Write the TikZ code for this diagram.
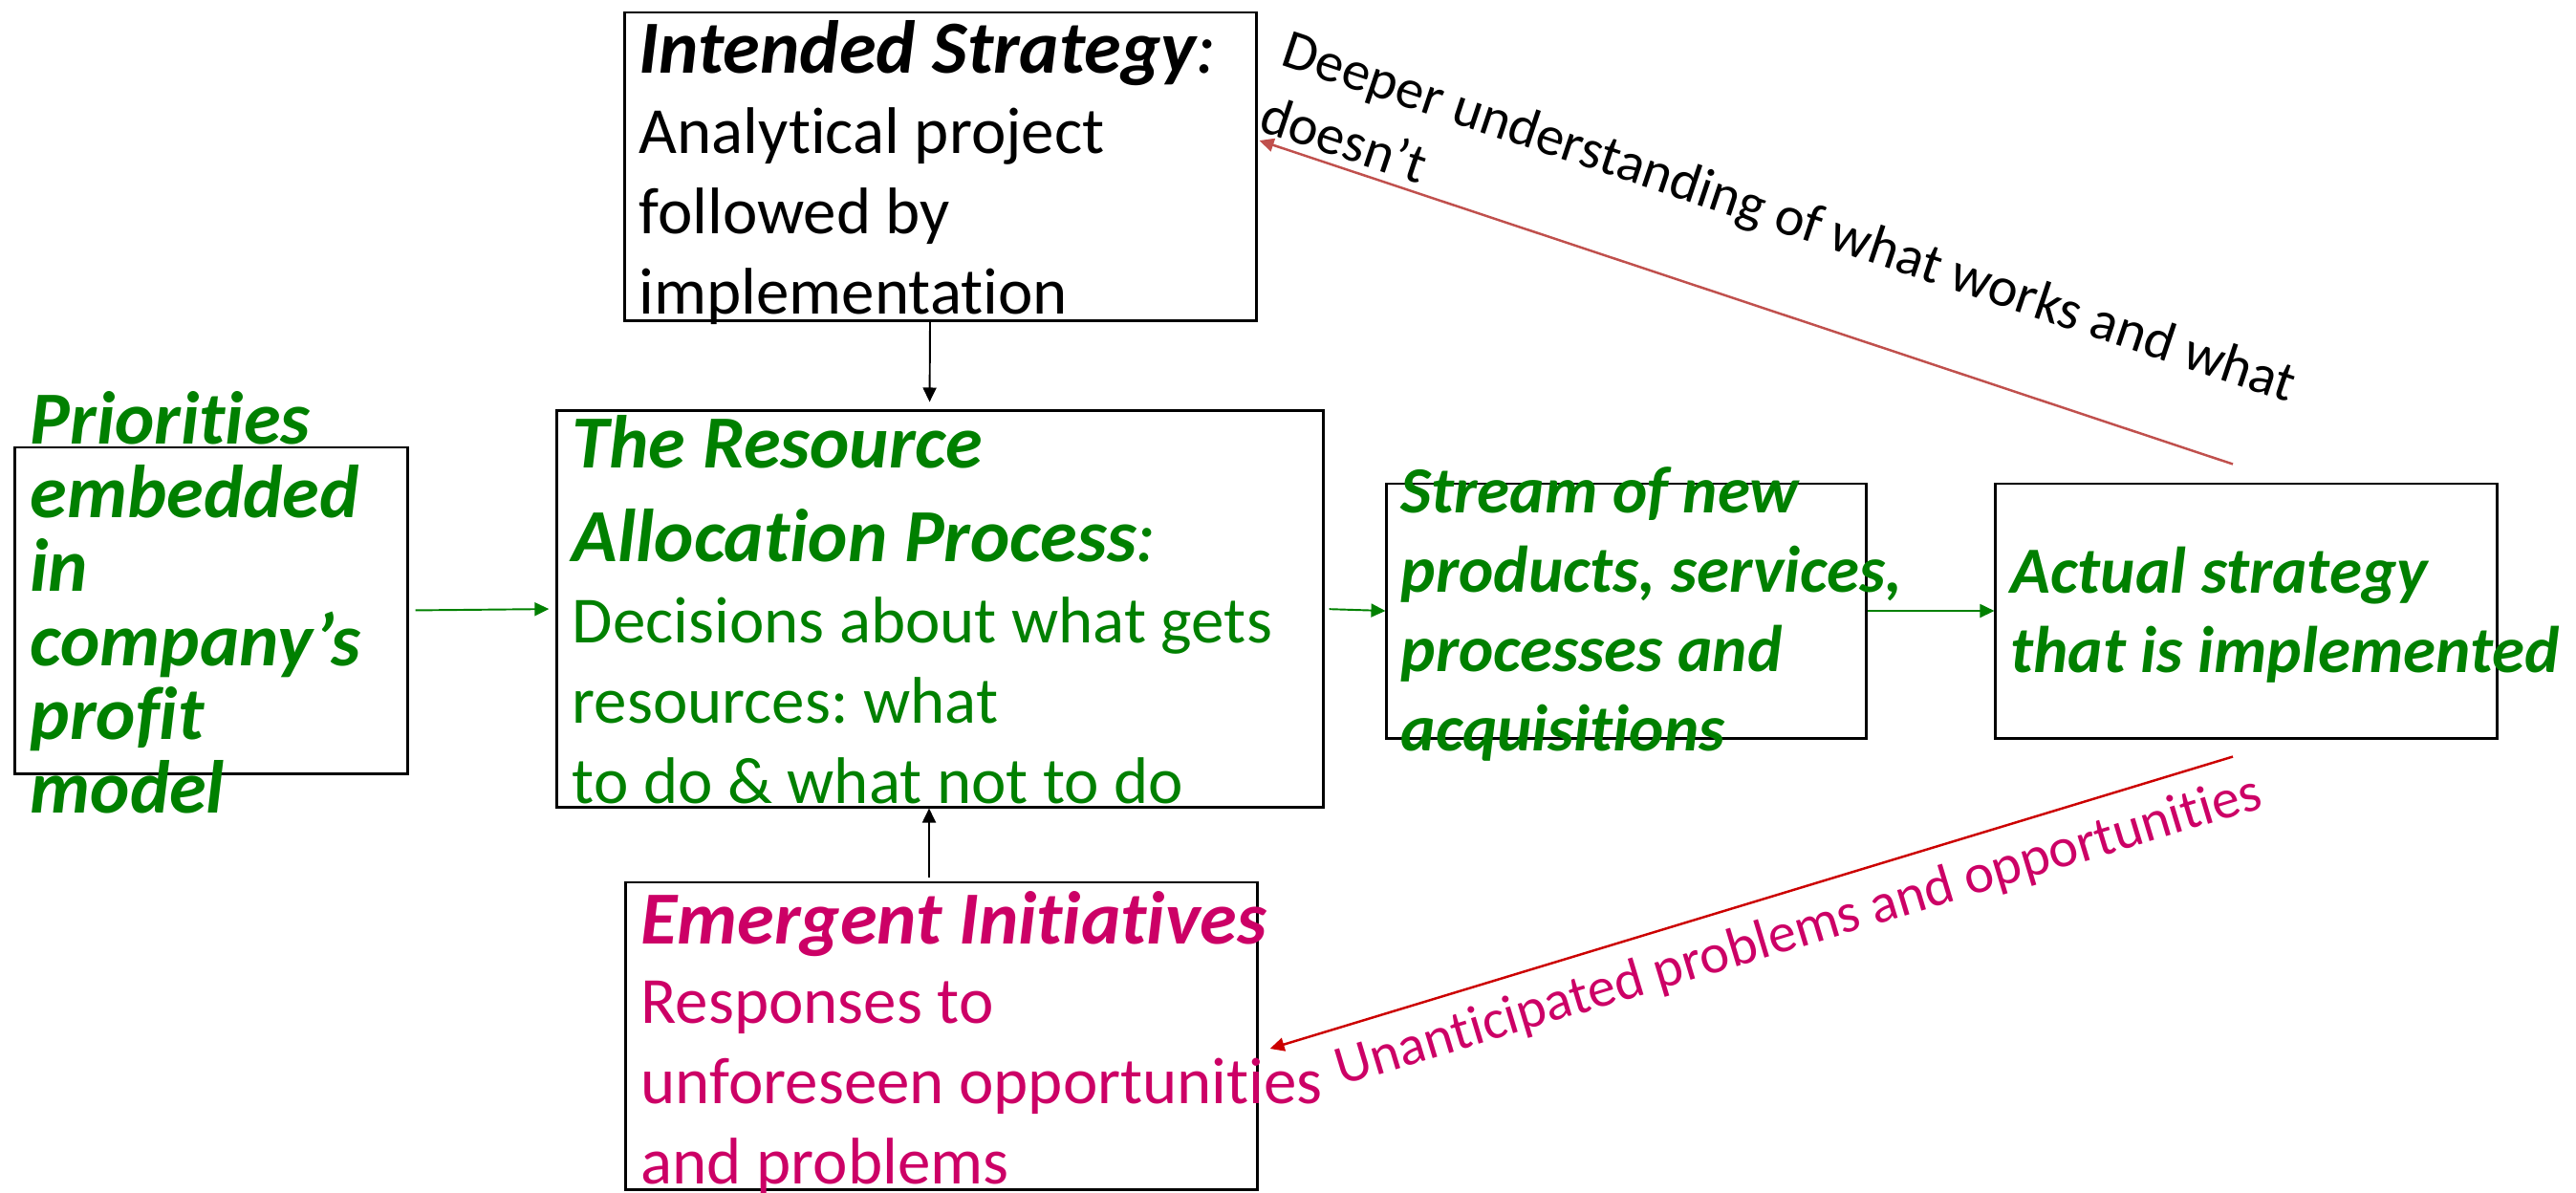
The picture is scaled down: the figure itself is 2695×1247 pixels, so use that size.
\documentclass[tikz,border=0pt]{standalone}
\usepackage{fontspec}
\setmainfont[Ligatures=CommonOff]{Carlito}
\usepackage{tikz}
\usetikzlibrary{calc,arrows.meta}
\frenchspacing

\definecolor{procgreen}{RGB}{0,128,0}
\definecolor{emergpink}{RGB}{204,0,102}
\definecolor{learnred}{RGB}{192,80,77}
\definecolor{surprisered}{RGB}{204,0,0}

\newcommand\bodysize{\fontsize{19.6}{23.8}\selectfont}
\newcommand\headsize{\fontsize{22.3}{27.6}\selectfont\bfseries\itshape}
\newcommand\priosize{\fontsize{22.3}{21.9}\selectfont\lineskiplimit=-20pt\bfseries\itshape}
\newcommand\streamsize{\fontsize{19.6}{23.6}\selectfont\bfseries\itshape}
\newcommand\labelsize{\fontsize{16.6}{20.5}\selectfont}

\tikzset{
  box/.style={draw, line width=0.8pt, inner sep=0pt},
  txt/.style={anchor=base west, align=left, inner sep=0pt},
  flow/.style={-{Triangle[length=0.15cm,width=0.14cm]}, line width=0.55pt},
}

\begin{document}
\begin{tikzpicture}[x=0.01cm, y=-0.01cm]
		%%%%% START %%%%%
		\useasboundingbox (0,0) rectangle (2695,1247);
		
		\node[box, minimum width=6.60cm, minimum height=3.22cm] (intended) at (984,174) {};
		\node[box, minimum width=4.10cm, minimum height=3.41cm] (priorities) at (221,638.5) {};
		\node[box, minimum width=8.01cm, minimum height=4.14cm] (rap) at (983.5,637) {};
		\node[box, minimum width=5.01cm, minimum height=2.66cm] (stream) at (1701.5,639) {};
		\node[box, minimum width=5.24cm, minimum height=2.66cm] (actual) at (2350,639) {};
		\node[box, minimum width=6.60cm, minimum height=3.21cm] (emergent) at (985,1083.5) {};
		
		% base of a multi-line node = baseline of its last line
		\node[txt, font=\headsize] (intendedhead) at (668,76) {Intended Strategy\textmd{:}};
		\node[txt, font=\bodysize] (intendedbody) at (668,328) {Analytical project\\followed by\\implementation};
		
		\node[txt, font=\priosize, text=procgreen] (priotext) at (31,850) {Priorities\\embedded\\in\\company’s\\profit\\model};
		
		\node[txt, font=\headsize, text=procgreen] (raphead) at (598,587) {The Resource\\Allocation Process\textmd{:}};
		\node[txt, font=\bodysize, text=procgreen] (rapbody) at (598,840) {Decisions about what gets\\resources: what\\to do \& what not to do};
		
		\node[txt, font=\streamsize, text=procgreen] (streamtext) at (1465,785) {Stream of new\\products, services,\\processes and\\acquisitions};
		\node[txt, font=\streamsize, text=procgreen] (actualtext) at (2103,703) {Actual strategy\\that is implemented};
		
		\node[txt, font=\headsize, text=emergpink] (emerghead) at (670,987) {Emergent Initiatives};
		\node[txt, font=\bodysize, text=emergpink] (emergbody) at (670,1238) {Responses to\\unforeseen opportunities\\and problems};
		
		\draw[flow, shorten >=0.08cm] ($(intended.south)+(-11,0)$) -- ($(rap.north)+(-11,0)$);
		\draw[flow] ($(emergent.north)+(-13,-4)$) -- ($(rap.south)+(-11.5,0)$);
		
		\draw[flow, procgreen, shorten <=0.07cm, shorten >=0.07cm] (priorities.east) -- (rap.west);
		\draw[flow, procgreen, shorten <=0.05cm] (rap.east) -- (stream.west);
		\draw[flow, procgreen] (stream.east) -- (actual.west);
		
		\draw[flow, learnred, line width=0.7pt] ($(actual.north)+(-14,-19)$) -- ($(intended.east)+(2,-27)$);
		\draw[flow, surprisered, line width=0.7pt] ($(actual.south)+(-14,18)$) -- ($(emergent.east)+(12,13.5)$);
		
		\node[txt, font=\labelsize, rotate=-18.5] (learnlabel) at (1315,136) {Deeper understanding of what works and what\\doesn’t};
		\node[txt, font=\labelsize, text=emergpink, rotate=16.8] (surpriselabel) at (1403,1136) {Unanticipated problems and opportunities};
		
		%%%%% END %%%%%
	\end{tikzpicture}
\end{document}
